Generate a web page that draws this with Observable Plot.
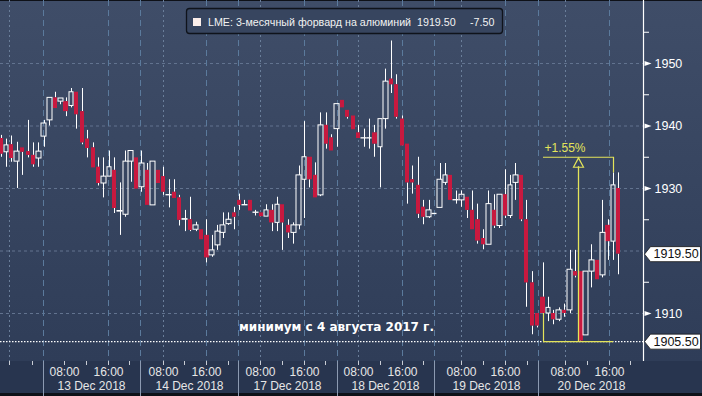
<!DOCTYPE html>
<html><head><meta charset="utf-8">
<script src="https://cdn.jsdelivr.net/npm/d3@7"></script>
<script src="https://cdn.jsdelivr.net/npm/@observablehq/plot@0.6"></script>
<style>
html,body{margin:0;padding:0;background:#28354f;}
#chart svg{display:block;}
</style></head><body><div id="chart"></div>
<script>
// ---- Data (hourly candles, LME 3M aluminium) ----
const open = [1938.0,1935.8,1937.0,1934.3,1936.5,1935.9,1935.3,1934.8,1938.3,1940.9,
1944.5,1943.9,1943.9,1943.2,1945.4,1942.3,1937.9,1936.5,1933.4,1930.8,
1931.9,1932.9,1926.3,1925.8,1934.3,1934.9,1930.2,1932.9,1927.3,1932.9,
1931.9,1928.9,1929.4,1928.5,1925.0,1925.0,1923.4,1923.4,1922.5,1919.3,
1920.9,1922.9,1924.3,1926.1,1928.1,1927.3,1928.1,1926.1,1926.1,1925.5,
1926.5,1924.5,1927.4,1924.1,1922.9,1924.1,1931.4,1935.0,1932.1,1928.9,
1940.1,1938.1,1939.5,1944.1,1942.5,1941.6,1938.9,1938.0,1938.0,1938.9,
1936.6,1941.1,1947.5,1946.6,1941.1,1937.1,1931.4,1930.5,1927.0,1925.4,
1925.9,1926.9,1930.9,1932.1,1928.1,1928.1,1928.6,1926.5,1925.0,1922.0,
1921.0,1926.5,1924.0,1929.0,1925.6,1930.9,1932.1,1925.0,1914.9,1910.0,
1912.6,1910.0,1910.0,1909.0,1910.5,1910.5,1916.7,1916.7,1906.5,1916.7,
1918.5,1916.1,1924.1,1921.5,1930.0];
const close = [1935.5,1936.9,1934.8,1935.9,1935.8,1935.3,1933.8,1935.9,1940.4,1944.5,
1942.8,1944.4,1942.3,1945.4,1941.8,1937.3,1936.4,1933.3,1930.8,1931.9,
1933.4,1926.8,1926.4,1934.3,1936.0,1929.9,1934.0,1927.3,1934.3,1930.8,
1929.4,1928.95,1928.4,1924.9,1925.1,1923.3,1924.1,1921.8,1918.9,1920.1,
1923.1,1924.1,1925.0,1925.4,1927.3,1927.35,1926.4,1926.15,1925.5,1926.5,
1924.5,1927.4,1924.5,1922.9,1924.1,1932.1,1935.0,1931.4,1928.5,1940.1,
1937.1,1936.0,1943.5,1942.9,1941.4,1939.4,1938.0,1938.05,1938.05,1937.1,
1941.1,1947.1,1946.6,1941.4,1936.8,1930.9,1930.9,1925.9,1925.4,1926.5,
1925.95,1931.4,1932.1,1928.1,1928.15,1929.0,1926.5,1923.4,1921.6,1921.0,
1927.5,1924.0,1929.0,1925.6,1930.5,1932.1,1925.0,1914.9,1908.0,1908.0,
1910.0,1910.9,1909.0,1910.5,1910.0,1917.0,1916.0,1905.6,1916.7,1918.5,
1915.4,1922.9,1921.5,1930.5,1919.5];
const high = [1938.5,1937.9,1938.4,1937.4,1936.5,1940.9,1937.3,1937.3,1940.9,1944.5,
1945.4,1944.4,1944.5,1946.0,1945.4,1946.0,1939.3,1937.3,1934.9,1934.9,
1936.0,1934.9,1930.9,1936.0,1936.0,1934.9,1936.0,1934.0,1934.3,1932.9,
1933.4,1931.4,1931.4,1928.9,1926.5,1928.6,1924.6,1923.4,1925.0,1922.5,
1924.1,1926.1,1926.1,1927.0,1929.1,1928.1,1928.1,1926.5,1926.1,1927.4,
1927.4,1928.6,1927.4,1925.0,1924.5,1933.6,1940.7,1935.0,1934.1,1942.1,
1942.1,1938.6,1943.5,1944.1,1942.5,1941.6,1940.1,1939.5,1941.1,1940.1,
1941.1,1949.1,1953.6,1948.2,1941.6,1937.1,1933.6,1935.0,1928.1,1928.1,
1925.95,1934.0,1934.0,1932.1,1929.6,1929.6,1928.6,1929.6,1927.5,1923.4,
1929.6,1929.0,1929.0,1933.0,1932.1,1934.0,1932.1,1928.1,1916.7,1910.0,
1918.1,1912.6,1910.5,1910.9,1911.5,1920.1,1920.1,1916.7,1916.7,1921.0,
1918.5,1928.1,1925.0,1932.5,1932.5];
const low = [1935.0,1933.4,1934.2,1930.0,1932.1,1934.9,1933.4,1933.4,1936.6,1940.0,
1942.8,1943.4,1941.5,1942.9,1939.5,1937.0,1934.9,1933.3,1930.4,1928.5,
1931.9,1926.0,1922.5,1925.4,1931.0,1929.9,1929.4,1927.3,1927.3,1930.8,
1928.9,1926.9,1928.4,1924.0,1923.1,1923.1,1923.1,1921.8,1918.1,1919.0,
1920.1,1922.0,1924.1,1923.4,1926.5,1927.3,1926.4,1925.6,1925.5,1925.5,
1923.1,1923.1,1920.1,1922.0,1921.1,1923.4,1925.2,1930.1,1928.5,1928.7,
1936.3,1936.0,1936.6,1942.9,1941.1,1939.4,1938.0,1936.6,1936.3,1935.0,
1930.1,1939.5,1945.2,1941.1,1936.8,1927.5,1929.1,1925.2,1924.2,1925.2,
1925.9,1926.9,1930.5,1928.1,1927.5,1927.0,1925.2,1923.4,1921.1,1920.2,
1921.0,1923.6,1923.6,1925.2,1925.2,1928.1,1924.7,1911.0,1906.6,1907.7,
1909.8,1908.7,1908.2,1908.7,1909.4,1910.0,1915.7,1905.5,1906.5,1914.1,
1915.4,1915.7,1918.5,1918.5,1916.2];

// time axis (positions in candle-index units)
const dayLabels = ["13 Dec 2018","14 Dec 2018","17 Dec 2018","18 Dec 2018","19 Dec 2018","20 Dec 2018"];
const dayStart = [7.8, 25.7, 43.9, 62.0, 79.9, 99.2];
const hour08 = [11.8, 29.9, 47.9, 66.0, 84.9, 104.2];
const hour16 = [19.8, 37.9, 56.0, 74.0, 93.1, 112.2];
const prevDay16 = [1.6];
const hourMinor = [5.8, 15.8, 23.8, 33.9, 41.9, 51.9, 59.9, 70.0, 78.0, 89.0, 97.1, 108.2, 116.2];
const timeLabel08 = "08:00", timeLabel16 = "16:00";

// price axis
const gridY = [1910, 1920, 1930, 1940, 1950];
const labelY = [1910, 1930, 1940, 1950];   // 1920 is covered by the last-price tag
const minorY = [1915, 1925, 1935, 1945, 1955];
const lastPrice = 1919.5, change = -7.5;
const minPrice = 1905.5;
const minLabel = "минимум с 4 августа 2017 г.";
const minLabelAt = 61.9;
const seriesName = "LME: 3-месячный форвард на алюминий";

// +% annotation
const pctFromIdx = 100, pctToIdx = 113, pctMidIdx = 106.5;
const pctLow = 1905.5, pctHigh = 1935.0;
const pctLeftEnd = 1910.0, pctRightEnd = 1932.5;

// ---- Build ----
const candles = open.map((o, i) => ({i, o, c: close[i], h: high[i], l: low[i]}));
const up = candles.filter(d => d.c >= d.o);
const down = candles.filter(d => d.c < d.o);

const xDomain = [-0.0923, 118.54];
const yDomain = [1902.32, 1960.08];
const RED = "#c8193f";
const YEL = "#e4e45a";
const FONT = "'Liberation Sans', Arial, sans-serif";

const tagSymbol = {draw(ctx) {
  ctx.moveTo(1, 0); ctx.lineTo(7, -7.5); ctx.lineTo(57, -7.5);
  ctx.lineTo(57, 7.5); ctx.lineTo(7, 7.5); ctx.closePath();
}};
const arrowRight = {draw(ctx) {
  ctx.moveTo(0, -2.5); ctx.lineTo(7, 0); ctx.lineTo(0, 2.5); ctx.closePath();
}};
const triUp = {draw(ctx) {
  ctx.moveTo(0, -4.7); ctx.lineTo(5, 4.7); ctx.lineTo(-5, 4.7); ctx.closePath();
}};

const pctText = "+" + ((pctHigh / pctLow - 1) * 100).toFixed(2) + "%";
const dayCenters = dayStart.map((s, k) => ({pos: (s + (k + 1 < dayStart.length ? dayStart[k + 1] : xDomain[1])) / 2, label: dayLabels[k]}));
const timeTicks = hour08.map(p => ({pos: p, label: timeLabel08})).concat(hour16.map(p => ({pos: p, label: timeLabel16})));
const tags = [{v: lastPrice}, {v: minPrice}];

function legendBox() {
  const g = d3.create("svg:g").attr("text-anchor", "start");
  g.append("rect").attr("x", 186.5).attr("y", 8.5).attr("width", 316).attr("height", 25)
    .attr("rx", 3).attr("fill", "#37455f").attr("stroke", "#0f131b").attr("stroke-width", 1.3);
  g.append("rect").attr("x", 193).attr("y", 18).attr("width", 8).attr("height", 8).attr("fill", "#fbeeea");
  const t = (x, s) => g.append("text").attr("x", x).attr("y", 22).attr("dy", "0.35em")
    .attr("text-anchor", "start")
    .attr("fill", "#f2f2f2").attr("font-size", 10.7).attr("font-family", FONT).text(s);
  t(208, seriesName);
  t(417, lastPrice.toFixed(2));
  t(470, change.toFixed(2));
  return g.node();
}

const chart = Plot.plot({
  width: 702, height: 396,
  marginLeft: 0, marginRight: 59, marginTop: 0, marginBottom: 35,
  x: {type: "linear", domain: xDomain, round: true, axis: null},
  y: {type: "linear", domain: yDomain, axis: null},
  style: {
    background: "linear-gradient(to bottom, #0e1118 0px, #0e1118 1px, #3f4d68 1px, #2f3d58 361px, #28354f 361px, #28354f 393px, #0e1118 393px, #0e1118 396px)",
    fontFamily: FONT, color: "#e8e8e8", overflow: "visible"
  },
  marks: [
    // grid
    Plot.ruleY(gridY, {stroke: "#62738f", strokeDasharray: "3,3", strokeWidth: 1}),
    Plot.ruleX(dayStart.concat(hour16), {stroke: "#5b7a9c", strokeDasharray: "6,4"}),
    Plot.ruleX(hour08.slice(1).concat(prevDay16), {stroke: "#6a7e9a", strokeDasharray: "2,3"}),
    // minimum level
    Plot.ruleY([minPrice], {stroke: "white", strokeDasharray: "1.5,1.5", strokeWidth: 1.2}),
    // wicks
    Plot.ruleX(candles, {x: "i", y1: "h", y2: d => Math.max(d.o, d.c), stroke: "white", strokeWidth: 1}),
    Plot.ruleX(candles, {x: "i", y1: d => Math.min(d.o, d.c), y2: "l", stroke: "white", strokeWidth: 1}),
    // bodies
    Plot.rect(down, {x1: d => d.i - 0.38, x2: d => d.i + 0.38, y1: "o", y2: "c", fill: RED}),
    Plot.rect(up, {x1: d => d.i - 0.44, x2: d => d.i + 0.44, y1: "o", y2: "c", fill: "none", stroke: "white", strokeWidth: 1}),
    // % annotation
    Plot.ruleY([pctLow, pctHigh], {x1: pctFromIdx, x2: pctToIdx, stroke: YEL, strokeWidth: 1.2}),
    Plot.ruleX([pctFromIdx], {y1: pctLow, y2: pctLeftEnd, stroke: YEL, strokeWidth: 1.2}),
    Plot.ruleX([pctToIdx], {y1: pctHigh, y2: pctRightEnd, stroke: YEL, strokeWidth: 1.2}),
    Plot.ruleX([pctMidIdx], {y1: pctLow, y2: pctHigh - 1.5, stroke: YEL, strokeWidth: 1.3}),
    Plot.dot([pctHigh], {x: () => pctMidIdx, y: d => d - 0.85, symbol: triUp, r: 1, stroke: YEL, fill: "none", strokeWidth: 1.2}),
    Plot.text([pctText], {x: () => pctFromIdx, y: () => pctHigh, text: d => d, dy: -9, dx: 1, textAnchor: "start", fill: YEL, fontSize: 12}),
    // minimum label
    Plot.text([minLabel], {x: () => minLabelAt, y: () => minPrice, text: d => d, dy: -14, fill: "white", fontSize: 12, fontWeight: "bold", fontFamily: "'DejaVu Sans', sans-serif"}),
    // right axis
    Plot.ruleX([xDomain[1]], {stroke: "white", strokeWidth: 1.2}),
    Plot.axisY(minorY, {anchor: "right", tickSize: 5, tickFormat: () => "", stroke: "white"}),
    Plot.dot(labelY, {y: d => d, frameAnchor: "right", symbol: arrowRight, r: 1, fill: "white", dx: 1}),
    Plot.axisY(labelY, {anchor: "right", tickSize: 0, tickPadding: 11, tickFormat: d => String(d), fontSize: 12.5, fill: "white"}),
    Plot.dot(tags, {y: "v", frameAnchor: "right", symbol: tagSymbol, r: 1, fill: "white", stroke: "#1a1a1a", strokeWidth: 0.8}),
    Plot.text(tags, {y: "v", frameAnchor: "right", text: d => d.v.toFixed(2), textAnchor: "start", dx: 10, fill: "#111", fontSize: 12.5}),
    // x axis band
    Plot.axisX(dayStart, {anchor: "bottom", tickSize: 35, tickFormat: () => "", stroke: "#8c9ab1"}),
    Plot.axisX(hourMinor.concat(hour08, hour16, prevDay16), {anchor: "bottom", tickSize: 4, tickFormat: () => "", stroke: "#c8ccd4"}),
    Plot.text(timeTicks, {x: "pos", text: "label", frameAnchor: "bottom", dy: 11, lineAnchor: "middle", fill: "#e6e6e6", fontSize: 12}),
    Plot.text(dayCenters, {x: "pos", text: "label", frameAnchor: "bottom", dy: 25, lineAnchor: "middle", fill: "#e6e6e6", fontSize: 12}),
    // legend
    legendBox
  ]
});
document.getElementById("chart").append(chart);
</script></body></html>
